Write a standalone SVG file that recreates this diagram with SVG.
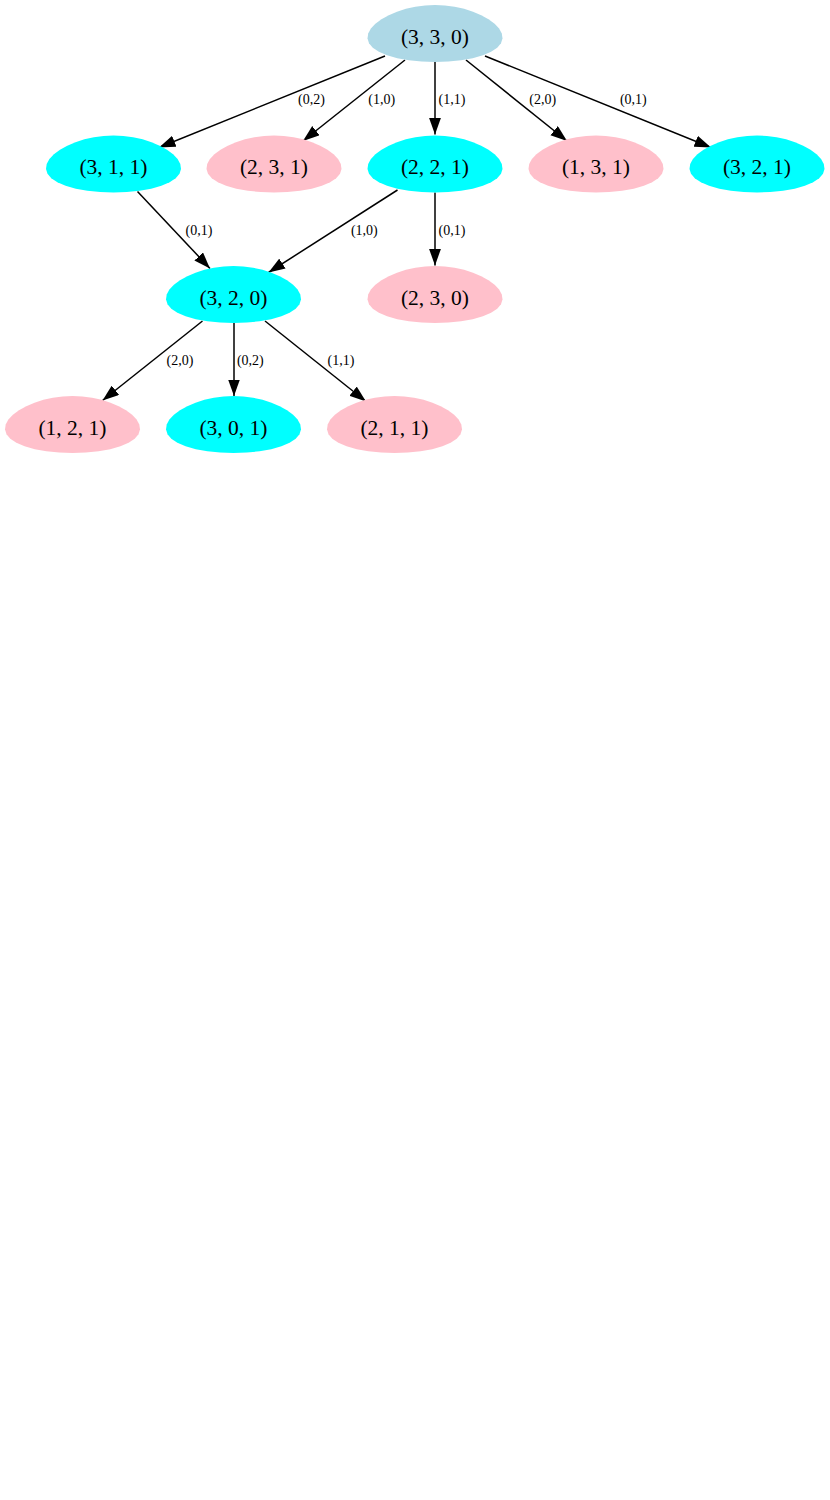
<svg xmlns="http://www.w3.org/2000/svg" xmlns:xlink="http://www.w3.org/1999/xlink" width="830" height="1500" viewBox="0 0 830 1500">
<style>
.n text{font-family:"Liberation Serif","Times New Roman",serif;font-size:21.5px;text-anchor:middle;fill:#000}
.lb{font-family:"Liberation Serif","Times New Roman",serif;font-size:14px;text-anchor:middle;fill:#000}
.e line{stroke:#000;stroke-width:1.5;fill:none;marker-end:url(#ah)}
.blue{fill:#add8e6}.cyan{fill:#00ffff}.pink{fill:#ffc0cb}
</style>
<defs>
<polygon id="egg" points="66.8,0 67.5,4.95 66.0,9.75 62.2,14.25 56.1,18.32 47.9,21.83 37.7,24.68 26.1,26.78 13.3,28.07 0,28.5 -13.3,28.07 -26.1,26.78 -37.7,24.68 -47.9,21.83 -56.1,18.32 -62.2,14.25 -66.0,9.75 -67.5,4.95 -66.8,0 -64.1,-4.95 -59.6,-9.75 -53.5,-14.25 -46.2,-18.32 -38.0,-21.83 -29.1,-24.68 -19.6,-26.78 -9.9,-28.07 0,-28.5 9.9,-28.07 19.6,-26.78 29.1,-24.68 38.0,-21.83 46.2,-18.32 53.5,-14.25 59.6,-9.75 64.1,-4.95"/>
<marker id="ah" markerWidth="17" markerHeight="12" refX="16.5" refY="5.9" orient="auto" markerUnits="userSpaceOnUse"><path d="M0,0 L16.5,5.9 L0,11.8 z" fill="#000"/></marker>
</defs>
<rect width="830" height="1500" fill="#fff"/>
<g id="edges" class="e">
<line x1="385" y1="56" x2="159" y2="147.5"/>
<line x1="405" y1="60" x2="303" y2="141"/>
<line x1="435" y1="62" x2="435" y2="134.5"/>
<line x1="466" y1="60" x2="567" y2="141"/>
<line x1="485" y1="56" x2="711" y2="147.5"/>
<line x1="137.5" y1="191.5" x2="210" y2="268.5"/>
<line x1="397.5" y1="190" x2="268.5" y2="272.5"/>
<line x1="435" y1="192.5" x2="435" y2="265.5"/>
<line x1="202.5" y1="321" x2="102.5" y2="400.5"/>
<line x1="234" y1="323" x2="234" y2="396"/>
<line x1="265" y1="321" x2="366" y2="401.5"/>
<text class="lb" x="311.5" y="104">(0,2)</text>
<text class="lb" x="381.7" y="104">(1,0)</text>
<text class="lb" x="452" y="104">(1,1)</text>
<text class="lb" x="542.7" y="104">(2,0)</text>
<text class="lb" x="633.3" y="104">(0,1)</text>
<text class="lb" x="199" y="234.5">(0,1)</text>
<text class="lb" x="364.3" y="234.5">(1,0)</text>
<text class="lb" x="452" y="234.5">(0,1)</text>
<text class="lb" x="180" y="365">(2,0)</text>
<text class="lb" x="250.3" y="365">(0,2)</text>
<text class="lb" x="341" y="365">(1,1)</text>
</g>
<g id="n330" class="n"><use xlink:href="#egg" class="blue" x="435" y="33.5"/><text x="435" y="43.5">(3, 3, 0)</text></g>
<g id="n311" class="n"><use xlink:href="#egg" class="cyan" x="113.5" y="164"/><text x="113.5" y="174">(3, 1, 1)</text></g>
<g id="n231" class="n"><use xlink:href="#egg" class="pink" x="274" y="164"/><text x="274" y="174">(2, 3, 1)</text></g>
<g id="n221" class="n"><use xlink:href="#egg" class="cyan" x="435" y="164"/><text x="435" y="174">(2, 2, 1)</text></g>
<g id="n131" class="n"><use xlink:href="#egg" class="pink" x="596" y="164"/><text x="596" y="174">(1, 3, 1)</text></g>
<g id="n321" class="n"><use xlink:href="#egg" class="cyan" x="757" y="164"/><text x="757" y="174">(3, 2, 1)</text></g>
<g id="n320" class="n"><use xlink:href="#egg" class="cyan" x="233.5" y="294.5"/><text x="233.5" y="304.5">(3, 2, 0)</text></g>
<g id="n230" class="n"><use xlink:href="#egg" class="pink" x="435" y="294.5"/><text x="435" y="304.5">(2, 3, 0)</text></g>
<g id="n121" class="n"><use xlink:href="#egg" class="pink" x="72.5" y="424.5"/><text x="72.5" y="434.5">(1, 2, 1)</text></g>
<g id="n301" class="n"><use xlink:href="#egg" class="cyan" x="233.5" y="424.5"/><text x="233.5" y="434.5">(3, 0, 1)</text></g>
<g id="n211" class="n"><use xlink:href="#egg" class="pink" x="394.5" y="424.5"/><text x="394.5" y="434.5">(2, 1, 1)</text></g>
</svg>
